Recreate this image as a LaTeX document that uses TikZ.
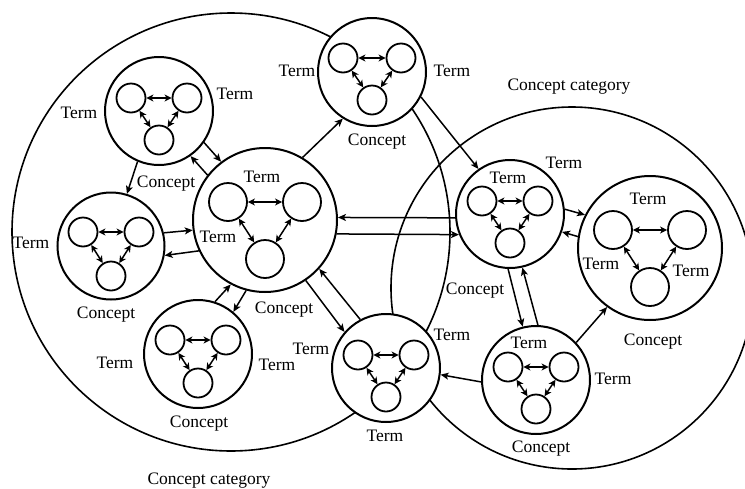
\documentclass[tikz,border=0pt]{standalone}
\usepackage{fontspec}
\setmainfont{Liberation Serif}
\usetikzlibrary{arrows.meta,calc}
\newcommand\cpt[8]{%
  \node[concept, minimum size=#4pt] (#1) at (#2,#3) {};
  \node[termc, minimum size=#5pt] (#1a) at ($(#1)+(-#6,-#7)$) {};
  \node[termc, minimum size=#5pt] (#1b) at ($(#1)+(#6,-#7)$) {};
  \node[termc, minimum size=#5pt] (#1c) at ($(#1)+(0,#8)$) {};
  \draw[dlink] (#1a) -- (#1b);
  \draw[dlink] (#1a) -- (#1c);
  \draw[dlink] (#1b) -- (#1c);
}
\begin{document}
\begin{tikzpicture}[x=1pt,y=-1pt,
  category/.style={circle, draw, line width=1.6pt, inner sep=0pt},
  concept/.style={circle, draw, fill=white, line width=2pt, inner sep=0pt},
  termc/.style={circle, draw, fill=white, line width=1.8pt, inner sep=0pt},
  link/.style={line width=1.5pt, -{Stealth[length=8pt,width=7pt,inset=2pt]}},
  dlink/.style={line width=1.5pt, {Stealth[length=7pt,width=7pt,inset=2pt]}-{Stealth[length=7pt,width=7pt,inset=2pt]}},
  lbl/.style={font=\fontsize{17.5}{18}\selectfont, inner sep=0pt}
]
\useasboundingbox (0,0) rectangle (745,488);
\node[category, minimum size=438pt] (cat1) at (231,232) {};
\node[category, minimum size=362pt] (cat2) at (572,288) {};

\cpt{TL}{159}{111}{108}{29}{28}{13}{29}
\cpt{TC}{372}{72}{108}{29}{29}{14}{28}
\cpt{C}{265}{220}{144}{38}{37}{18}{39}
\cpt{L}{111}{246}{107}{29}{28}{14}{30}
\cpt{BL}{198}{354}{108}{29}{28}{14}{29}
\cpt{BC}{386}{368}{108}{29}{28}{13}{29}
\cpt{RM}{510}{214}{108}{29}{28}{13}{29}
\cpt{R}{650}{248}{144}{38}{37}{18}{39}
\cpt{BR}{536}{380}{108}{29}{28}{13}{29}

\draw[link] (TL.-35) -- (C.127);
\draw[link] (C.142) -- (TL.-55);
\draw[link] (TL.-113) -- (L.73);
\draw[link] (C.59) -- (TC.-122);
\draw[link] (TC.-27) -- (RM.125);
\draw[link] (L.14) -- (C.188);
\draw[link] (C.205) -- (L.-10);
\draw[link] (BL.72) -- (C.-118);
\draw[link] (C.-105) -- (BL.50);
\draw[link] (C.-56) -- (BC.139);
\draw[link] (BC.118) -- (C.-42);
\draw[link] (RM.184) -- (C.2);
\draw[link] (C.-11) -- (RM.202);
\draw[link] (RM.5) -- (R.153);
\draw[link] (R.171) -- (RM.-19);
\draw[link] (RM.-92) -- (BR.104);
\draw[link] (BR.88) -- (RM.-77);
\draw[link] (BR.43) -- (R.-126);
\draw[link] (BR.182) -- (BC.-7);

\node[lbl] (l1) at (79,113) {Term};
\node[lbl] (l2) at (235,94) {Term};
\node[lbl] (l3) at (166,184) {Concept};
\node[lbl] (l4) at (297,71) {Term};
\node[lbl] (l5) at (452,71) {Term};
\node[lbl] (l6) at (377,142) {Concept};
\node[lbl] (l7) at (569,87) {Concept category};
\node[lbl] (l8) at (262,177) {Term};
\node[lbl] (l9) at (218,237) {Term};
\node[lbl] (l10) at (31,243) {Term};
\node[lbl] (l11) at (106,315) {Concept};
\node[lbl] (l12) at (284,310) {Concept};
\node[lbl] (l13) at (115,363) {Term};
\node[lbl] (l14) at (277,365) {Term};
\node[lbl] (l15) at (199,424) {Concept};
\node[lbl] (l16) at (209,481) {Concept category};
\node[lbl] (l17) at (311,349) {Term};
\node[lbl] (l18) at (452,335) {Term};
\node[lbl] (l19) at (385,436) {Term};
\node[lbl] (l20) at (564,163) {Term};
\node[lbl] (l21) at (508,178) {Term};
\node[lbl] (l22) at (475,291) {Concept};
\node[lbl] (l23) at (648,199) {Term};
\node[lbl] (l24) at (601,264) {Term};
\node[lbl] (l25) at (691,271) {Term};
\node[lbl] (l26) at (653,342) {Concept};
\node[lbl] (l27) at (529,343) {Term};
\node[lbl] (l28) at (613,379) {Term};
\node[lbl] (l29) at (541,449) {Concept};
\end{tikzpicture}
\end{document}
